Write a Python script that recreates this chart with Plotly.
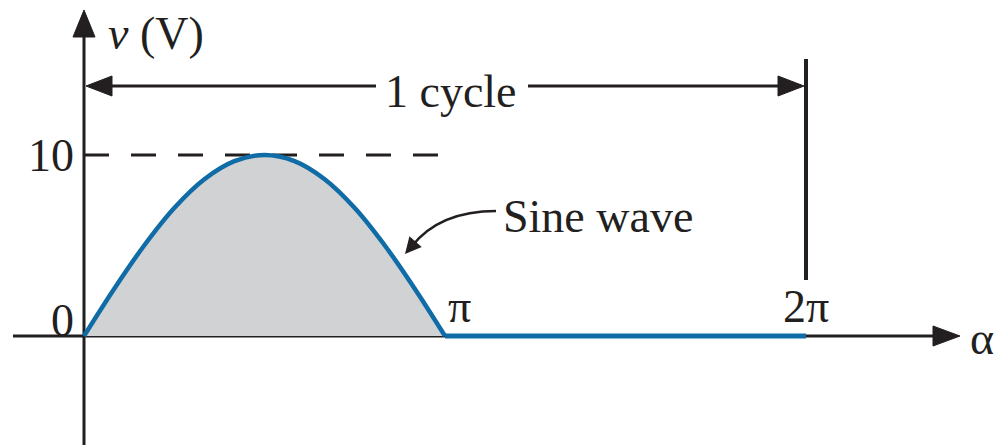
import numpy as np
import plotly.graph_objects as go

# ---- data (angles in degrees, voltage in V) ----
sine_angles = [0, 15, 30, 45, 60, 75, 90, 105, 120, 135, 150, 165, 180]
sine_volts = [0, 2.6, 5.0, 7.07, 8.66, 9.66, 10, 9.66, 8.66, 7.07, 5.0, 2.6, 0]
flat_angles = [180, 360]
flat_volts = [0, 0]
peak_volts = 10
cycle_end = 360
x_tick_vals = [180, 360]
x_tick_text = ["π", "2π"]
y_tick_vals = [0, 10]
y_tick_text = ["0", "10"]

BLUE = "#0f6ca6"
FILL = "#d1d2d4"
INK = "#231f20"
FONT = "Liberation Serif"
FS = 46

W, H = 998, 445
# pixel scale of the drawing
PX_PER_DEG = 361 / 180.0
PX_PER_V = 18.1
X0_PX, Y0_PX = 84, 336
x_range = [-X0_PX / PX_PER_DEG, (W - X0_PX) / PX_PER_DEG]
y_range = [-(H - Y0_PX) / PX_PER_V, Y0_PX / PX_PER_V]


def dx(px):  # pixel length -> degrees
    return px / PX_PER_DEG


def dy(px):  # pixel length -> volts
    return px / PX_PER_V


fig = go.Figure()
fig.add_trace(go.Scatter(x=sine_angles, y=sine_volts, mode="lines",
                         line=dict(color=BLUE, width=4.5, shape="spline"),
                         fill="tozeroy", fillcolor=FILL, hoverinfo="skip"))
fig.add_trace(go.Scatter(x=flat_angles, y=flat_volts, mode="lines",
                         line=dict(color=BLUE, width=5), hoverinfo="skip"))

shapes = []
lw = 3
# y axis
y_top = y_range[1] - dy(10)
shapes.append(dict(type="line", x0=0, x1=0, y0=y_range[0], y1=y_top - dy(24),
                   line=dict(color=INK, width=lw), layer="below"))
shapes.append(dict(type="path",
                   path=f"M {-dx(11)},{y_top - dy(27)} L 0,{y_top} L {dx(11)},{y_top - dy(27)} Z",
                   fillcolor=INK, line=dict(color=INK, width=1), layer="below"))
# x axis
x_tip = x_range[1] - dx(38)
shapes.append(dict(type="line", x0=x_range[0] + dx(13), x1=x_tip - dx(24), y0=0, y1=0,
                   line=dict(color=INK, width=lw), layer="below"))
shapes.append(dict(type="path",
                   path=f"M {x_tip - dx(27)},{dy(10)} L {x_tip},0 L {x_tip - dx(27)},{-dy(10)} Z",
                   fillcolor=INK, line=dict(color=INK, width=1), layer="below"))
# dashed peak line
shapes.append(dict(type="line", x0=0, x1=180, y0=peak_volts, y1=peak_volts,
                   line=dict(color=INK, width=lw, dash="25px,22px"), layer="below"))
# vertical line at end of cycle
shapes.append(dict(type="line", x0=cycle_end, x1=cycle_end, y0=dy(Y0_PX - 59), y1=dy(Y0_PX - 280),
                   line=dict(color=INK, width=4), layer="below"))
# 1 cycle dimension arrow
yc = dy(Y0_PX - 86)
gap_l, gap_r = dx(376 - X0_PX), dx(528 - X0_PX)
shapes.append(dict(type="line", x0=dx(20), x1=gap_l, y0=yc, y1=yc,
                   line=dict(color=INK, width=lw), layer="below"))
shapes.append(dict(type="line", x0=gap_r, x1=cycle_end - dx(20), y0=yc, y1=yc,
                   line=dict(color=INK, width=lw), layer="below"))
shapes.append(dict(type="path",
                   path=f"M {dx(2)},{yc} L {dx(28)},{yc + dy(10)} L {dx(28)},{yc - dy(10)} Z",
                   fillcolor=INK, line=dict(color=INK, width=1), layer="below"))
shapes.append(dict(type="path",
                   path=f"M {cycle_end - dx(2)},{yc} L {cycle_end - dx(28)},{yc + dy(10)} L {cycle_end - dx(28)},{yc - dy(10)} Z",
                   fillcolor=INK, line=dict(color=INK, width=1), layer="below"))
# curved pointer for "Sine wave"
p0 = (dx(496 - X0_PX), dy(Y0_PX - 211))
pc = (dx(440 - X0_PX), dy(Y0_PX - 211))
p1 = (dx(412 - X0_PX), dy(Y0_PX - 246))
shapes.append(dict(type="path",
                   path=f"M {p0[0]},{p0[1]} Q {pc[0]},{pc[1]} {p1[0]},{p1[1]}",
                   line=dict(color=INK, width=2.5), layer="above"))

annotations = []
# arrowhead for the pointer
annotations.append(dict(x=dx(405 - X0_PX), y=dy(Y0_PX - 254), ax=12, ay=-14, xref="x", yref="y",
                        text="", showarrow=True, arrowhead=2, arrowsize=1.3, arrowwidth=2.5,
                        arrowcolor=INK, standoff=0))


def label(text, x, y, xanchor="center", yanchor="middle"):
    annotations.append(dict(x=x, y=y, xref="x", yref="y", text=text, showarrow=False,
                            xanchor=xanchor, yanchor=yanchor,
                            font=dict(family=FONT, size=FS, color=INK)))


label("<i>v</i> (V)", dx(106 - X0_PX), dy(Y0_PX - 33), xanchor="left")
for v, t in zip(y_tick_vals, y_tick_text):
    label(t, -dx(8), v + (dy(16) if v == 0 else 0), xanchor="right")
for a, t in zip(x_tick_vals, x_tick_text):
    label(t, a + (dx(14) if a == 180 else 0), dy(30))
label("α", x_range[1] - dx(16), -dy(2))
label("1 cycle", dx(451 - X0_PX), yc - dy(5))
label("Sine wave", dx(501 - X0_PX), dy(Y0_PX - 216), xanchor="left")

fig.update_layout(
    width=W, height=H, margin=dict(l=0, r=0, t=0, b=0),
    paper_bgcolor="white", plot_bgcolor="white", showlegend=False,
    xaxis=dict(range=x_range, visible=False, fixedrange=True),
    yaxis=dict(range=y_range, visible=False, fixedrange=True),
    shapes=shapes, annotations=annotations,
)

fig.write_html("out.html", config={"displayModeBar": False},
               post_script="document.body.style.margin='0';document.body.style.overflow='hidden';")
